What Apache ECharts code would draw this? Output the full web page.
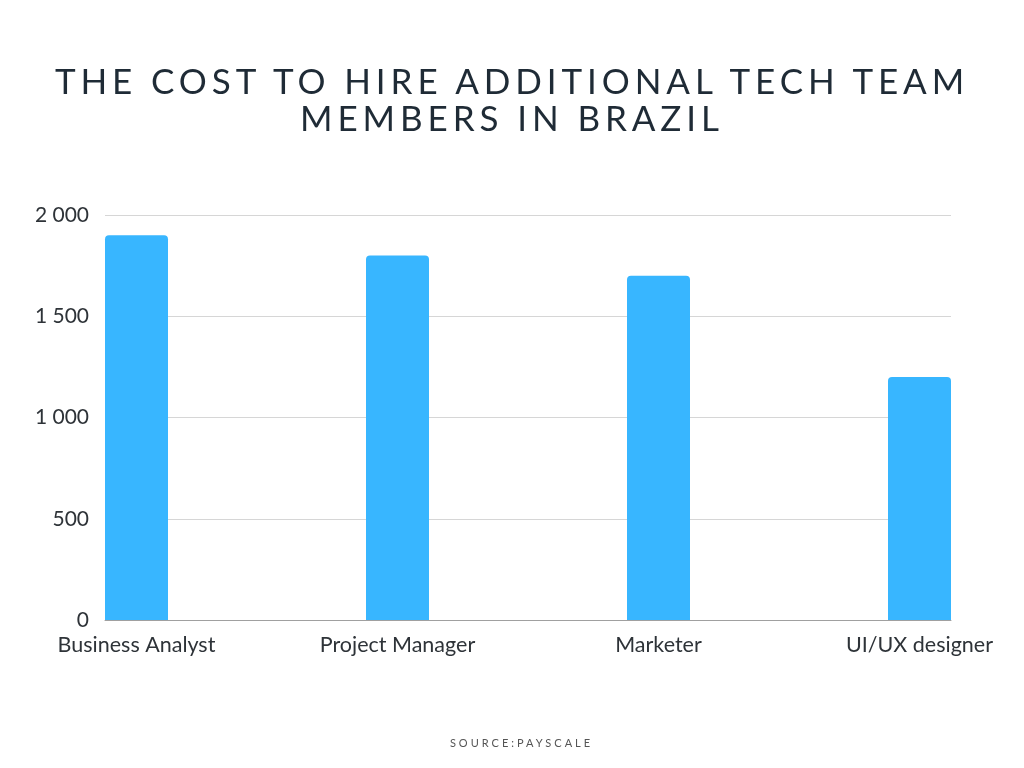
<!DOCTYPE html>
<html>
<head>
<meta charset="utf-8">
<script src="https://cdn.jsdelivr.net/npm/echarts@6/dist/echarts.min.js"></script>
<style>
  html, body { margin: 0; padding: 0; background: #ffffff; }
  #wrap { position: relative; width: 1024px; height: 768px; overflow: hidden; }
  #chart { position: absolute; left: 0; top: 0; width: 1024px; height: 768px; }
  #title { position: absolute; left: 0; top: 62px; width: 1024px; text-align: center;
    font-family: Lato, sans-serif; font-size: 35px; line-height: 36.5px; letter-spacing: 4.9px;
    color: #1f2b36; font-weight: 400; z-index: 2; }
  #source { position: absolute; left: 0; top: 736px; width: 1043px; text-align: center;
    font-family: Lato, sans-serif; font-size: 11px; letter-spacing: 3.0px; color: #555; z-index: 2; }
</style>
</head>
<body>
<div id="wrap">
  <div id="chart"></div>
  <div id="title">THE COST TO HIRE ADDITIONAL TECH TEAM<br>MEMBERS IN BRAZIL</div>
  <div id="source">SOURCE:PAYSCALE</div>
</div>
<script>
const categories = ['Business Analyst', 'Project Manager', 'Marketer', 'UI/UX designer'];
const values = [1900, 1800, 1700, 1200];
const yTicks = [0, 500, 1000, 1500, 2000];

const chart = echarts.init(document.getElementById('chart'), null, { renderer: 'canvas' });
const fmt = v => String(v).replace(/\B(?=(\d{3})+(?!\d))/g, ' ');
chart.setOption({
  animation: false,
  backgroundColor: '#ffffff',
  grid: [
    { left: 105, right: 73, top: 215, bottom: 148 },
    { left: 136.5, right: 104.5, top: 215, bottom: 148 }
  ],
  xAxis: [
    { gridIndex: 0, type: 'category', data: categories, boundaryGap: false,
      axisLine: { show: true, lineStyle: { color: '#a0a0a0', width: 1 } },
      axisTick: { show: false }, axisLabel: { show: false }, splitLine: { show: false } },
    { gridIndex: 1, type: 'category', data: categories, boundaryGap: false,
      axisLine: { show: false }, axisTick: { show: false }, splitLine: { show: false },
      axisLabel: { margin: 14, fontFamily: 'Lato', fontSize: 21.5, color: '#2e3338' } }
  ],
  yAxis: [
    { gridIndex: 0, type: 'value', min: yTicks[0], max: yTicks[yTicks.length - 1], interval: 500,
      axisLine: { show: false }, axisTick: { show: false },
      axisLabel: { margin: 16, fontFamily: 'Lato', fontSize: 21, color: '#2e3338', formatter: fmt },
      splitLine: { lineStyle: { color: '#d6d6d6', width: 1 } } },
    { gridIndex: 1, type: 'value', min: yTicks[0], max: yTicks[yTicks.length - 1], interval: 500,
      show: false, splitLine: { show: false } }
  ],
  series: [{
    type: 'bar', xAxisIndex: 1, yAxisIndex: 1, data: values, barWidth: 63, z: 5,
    itemStyle: { color: '#38b6ff', borderRadius: [4, 4, 0, 0] }
  }]
});
</script>
</body>
</html>
